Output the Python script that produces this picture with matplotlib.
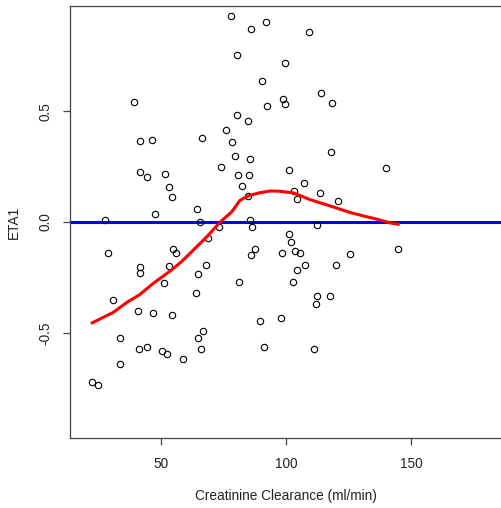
import matplotlib
matplotlib.use("Agg")
# Plotting backend for saved figures.
import matplotlib.pyplot as plt

# Creatinine clearance (ml/min) for each subject.
crcl = [
    78.0, 91.7, 85.9, 109.2, 80.2, 99.5, 90.3, 114.0, 98.6, 99.5,
    92.1, 118.4, 38.9, 41.5, 46.4, 41.6, 44.2, 51.6, 53.1, 54.4,
    47.3, 27.6, 64.4, 65.4, 66.2, 74.0, 75.8, 78.4, 79.4, 80.6,
    80.2, 84.6, 82.4, 85.0, 85.3, 84.6, 72.9, 68.8, 85.4, 86.4,
    87.3, 54.8, 117.9, 139.9, 100.9, 107.0, 103.0, 104.3, 113.6, 120.6,
    112.3, 100.9, 101.8, 103.3, 144.8, 85.9, 98.2, 105.6, 125.5, 107.4,
    104.4, 119.8, 102.6, 112.3, 117.5, 111.9, 97.8, 111.0, 89.4, 91.2,
    67.9, 64.8, 81.1, 63.9, 54.4, 66.6, 64.8, 65.8, 58.7, 55.8,
    28.8, 41.5, 41.5, 53.1, 51.2, 30.6, 40.7, 46.8, 33.6, 41.1,
    44.2, 50.3, 52.2, 33.6, 22.4, 24.6,
]
# Random effect estimate ETA1 for each subject.
eta1 = [
    0.930, 0.904, 0.870, 0.859, 0.756, 0.716, 0.636, 0.582, 0.554, 0.533,
    0.522, 0.537, 0.542, 0.364, 0.369, 0.226, 0.201, 0.216, 0.156, 0.111,
    0.037, 0.009, 0.058, -0.002, 0.379, 0.250, 0.414, 0.359, 0.300, 0.211,
    0.483, 0.458, 0.161, 0.211, 0.284, 0.116, -0.023, -0.071, 0.009, -0.023,
    -0.123, -0.124, 0.315, 0.246, 0.235, 0.176, 0.138, 0.105, 0.131, 0.097,
    -0.013, -0.056, -0.091, -0.132, -0.124, -0.150, -0.142, -0.142, -0.145, -0.195,
    -0.216, -0.195, -0.270, -0.333, -0.333, -0.369, -0.434, -0.572, -0.447, -0.566,
    -0.194, -0.235, -0.270, -0.320, -0.418, -0.492, -0.523, -0.572, -0.620, -0.139,
    -0.138, -0.203, -0.228, -0.199, -0.275, -0.350, -0.402, -0.413, -0.523, -0.572,
    -0.562, -0.584, -0.598, -0.641, -0.724, -0.735,
]

# Smoothed trend of ETA1 against clearance.
smooth_x = [22.4, 30.8, 36.2, 41.5, 46.8, 53.5, 58.0, 62.8, 68.2, 73.5,
            78.2, 81.5, 84.8, 89.0, 93.5, 97.0, 103.0, 109.5, 118.8, 125.5,
            131.0, 136.2, 141.5, 144.8]
smooth_y = [-0.455, -0.408, -0.363, -0.327, -0.277, -0.222, -0.180, -0.127, -0.067, -0.001,
            0.046, 0.098, 0.118, 0.131, 0.140, 0.139, 0.131, 0.101, 0.068, 0.043,
            0.027, 0.013, -0.004, -0.010]

x_ticks = [50, 100, 150]
y_ticks = [-0.5, 0.0, 0.5]
y_tick_labels = ["-0.5", "0.0", "0.5"]

plt.rcParams["font.family"] = ["Liberation Sans", "DejaVu Sans"]
plt.rcParams["font.size"] = 9.8
ink = "#222222"

fig = plt.figure(figsize=(5.01, 5.08), dpi=100)
ax = fig.add_axes([70 / 501, 1 - 438 / 508, 432 / 501, 432 / 508])

# Reference line at zero.
ax.axhline(0.0, color="#0000ff", lw=2.2, zorder=2)

# Subjects as open circles.
ax.plot(crcl, eta1, linestyle="none", marker="o", markersize=4.6,
        markerfacecolor="none", markeredgecolor="black", markeredgewidth=0.8, zorder=3)

# Smooth trend through the points.
ax.plot(smooth_x, smooth_y, color="#ff0000", lw=2.2, zorder=4)

ax.set_xlim(13.5, 186.3)
ax.set_ylim(-0.975, 0.975)
ax.set_xticks(x_ticks)
ax.set_yticks(y_ticks)
ax.set_yticklabels(y_tick_labels, rotation=90, va="center")

for side in ("left", "bottom", "top", "right"):
    ax.spines[side].set_color("#444444")
    ax.spines[side].set_linewidth(0.9)
ax.tick_params(direction="out", length=5, width=0.9, color="#444444",
               labelcolor=ink)
ax.tick_params(axis="x", pad=8.5)
ax.tick_params(axis="y", pad=7.5)

ax.set_xlabel("Creatinine Clearance (ml/min)", color=ink, labelpad=13)
ax.set_ylabel("ETA1", color=ink, labelpad=13)

fig.savefig("out.png", dpi=100)
